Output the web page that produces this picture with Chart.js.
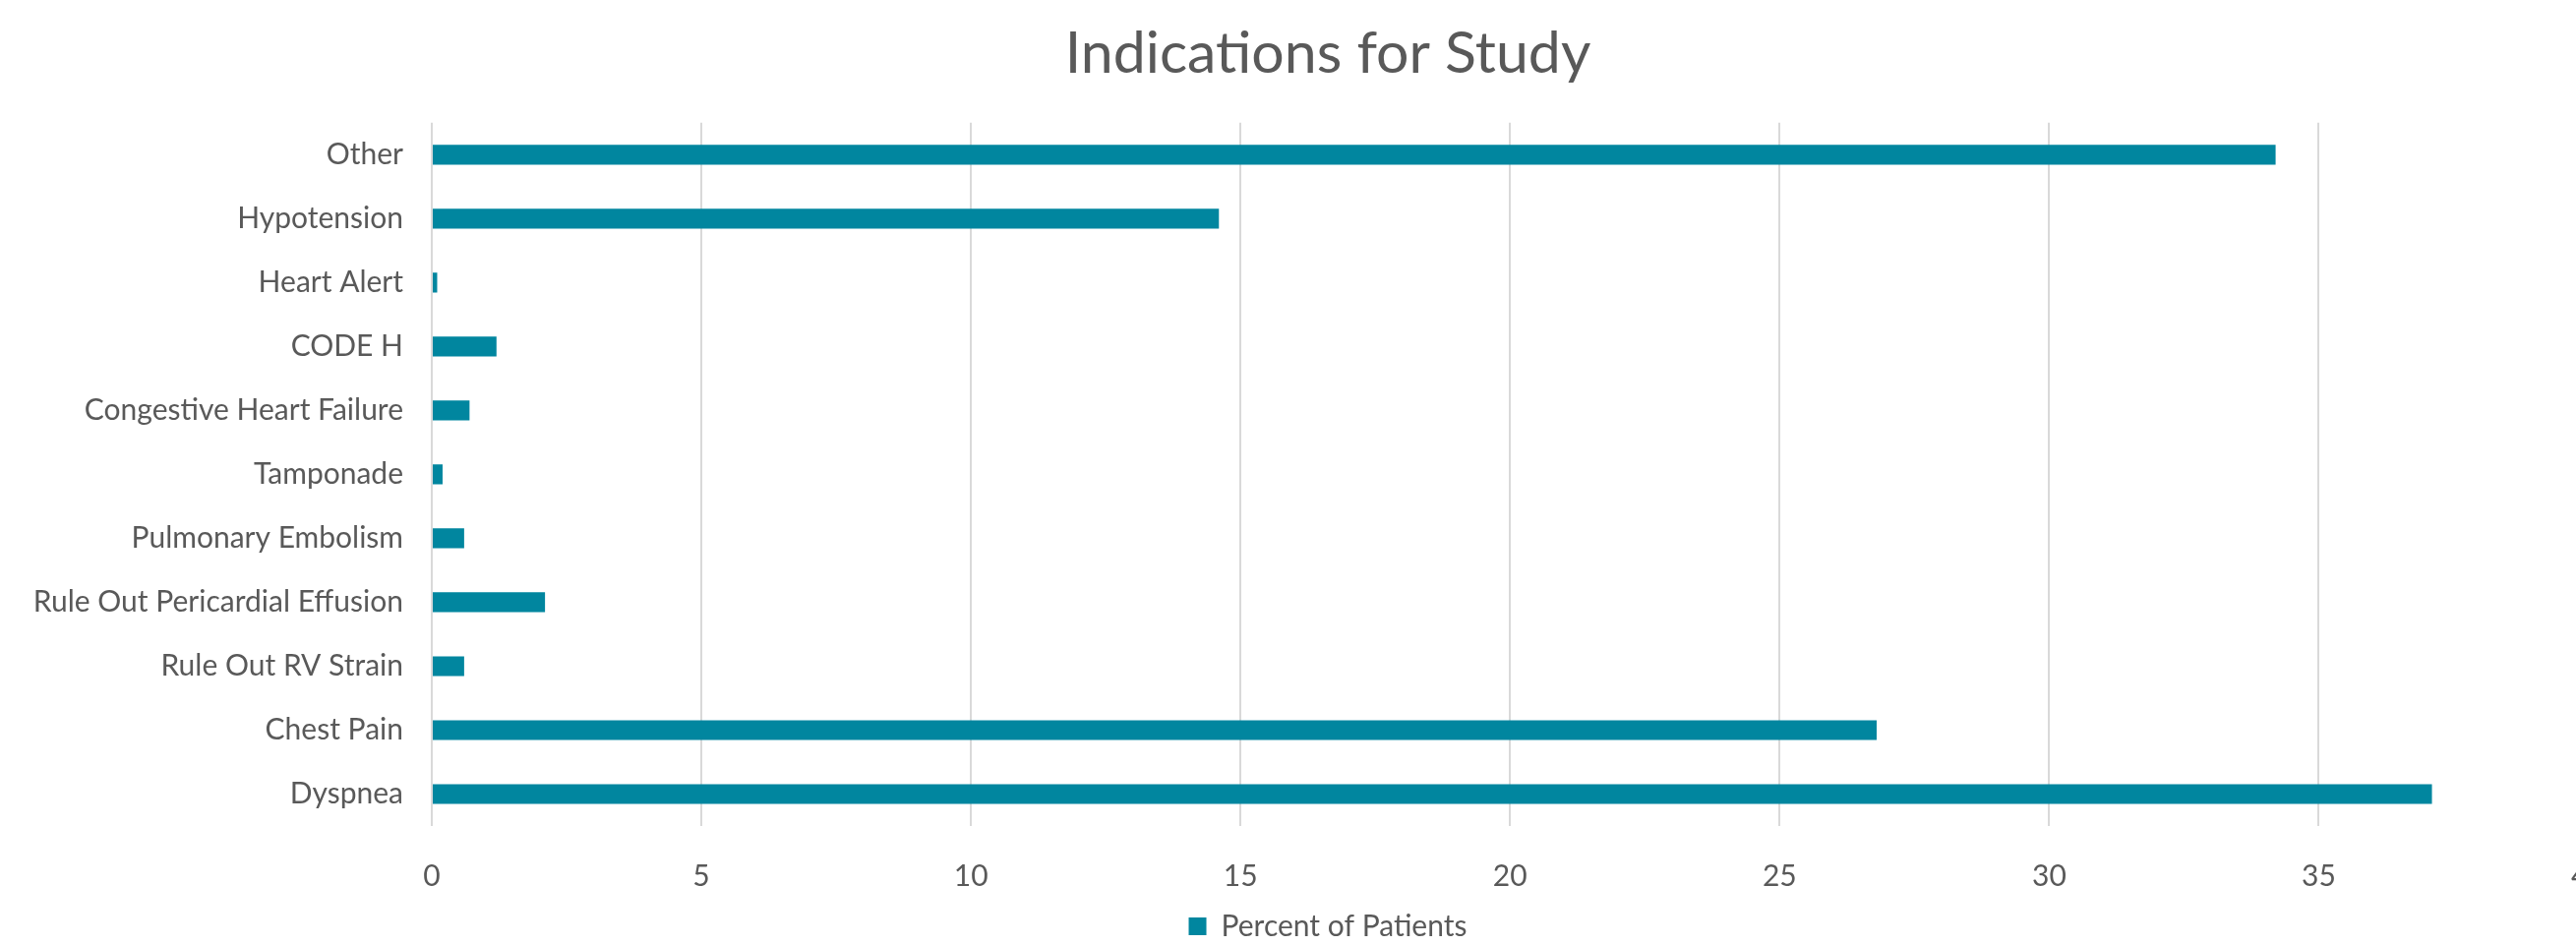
<!DOCTYPE html>
<html>
<head>
<meta charset="utf-8">
<title>Indications for Study</title>
<script src="https://cdn.jsdelivr.net/npm/chart.js@4/dist/chart.umd.min.js"></script>
<style>
  html, body { margin: 0; padding: 0; background: #ffffff; overflow: hidden; }
  #wrap { width: 2700px; height: 967px; }
</style>
</head>
<body>
<div id="wrap"><canvas id="chart" width="2700" height="967"></canvas></div>
<script>
// Indications, listed bottom-to-top as they appear on the axis
const indications = [
  'Dyspnea',
  'Chest Pain',
  'Rule Out RV Strain',
  'Rule Out Pericardial Effusion',
  'Pulmonary Embolism',
  'Tamponade',
  'Congestive Heart Failure',
  'CODE H',
  'Heart Alert',
  'Hypotension',
  'Other'
];

// Percent of patients for each indication
const percentOfPatients = [37.1, 26.8, 0.6, 2.1, 0.6, 0.2, 0.7, 1.2, 0.1, 14.6, 34.2];

// Value axis range and step
const axisMin = 0;
const axisMax = 40;
const axisStep = 5;

const seriesName = 'Percent of Patients';
const chartTitle = 'Indications for Study';

const TEXT = '#595959';
const GRID = '#d9d9d9';
const BAR = '#01869f';
const FONT = 'Lato, "Open Sans", sans-serif';

// The side padding keeps title and legend centred; let the category labels
// use the full left margin so the longest one is not clipped.
const widenCategoryAxis = {
  id: 'widenCategoryAxis',
  afterLayout(chart) {
    const y = chart.scales.y;
    y.width = y.right;
    y.left = 0;
  }
};

function draw() {
  new Chart(document.getElementById('chart'), {
    type: 'bar',
    data: {
      labels: indications,
      datasets: [{
        label: seriesName,
        data: percentOfPatients,
        backgroundColor: BAR,
        borderWidth: 0,
        categoryPercentage: 1,
        barPercentage: 0.31
      }]
    },
    plugins: [widenCategoryAxis],
    options: {
      indexAxis: 'y',
      responsive: false,
      animation: false,
      layout: { padding: { left: 68.5, right: 68.5, top: 0, bottom: 0 } },
      plugins: {
        title: {
          display: true,
          text: chartTitle,
          color: TEXT,
          font: { family: FONT, size: 59, weight: 'normal' },
          padding: { top: 20, bottom: 34 }
        },
        legend: {
          display: true,
          position: 'bottom',
          labels: {
            color: TEXT,
            font: { family: FONT, size: 30 },
            boxWidth: 18,
            boxHeight: 18,
            padding: 10
          }
        },
        tooltip: { enabled: false }
      },
      scales: {
        x: {
          type: 'linear',
          min: axisMin,
          max: axisMax,
          ticks: {
            stepSize: axisStep,
            color: TEXT,
            font: { family: FONT, size: 30 },
            padding: 33
          },
          grid: { color: GRID, lineWidth: 2, drawTicks: false },
          border: { display: false },
          afterFit: (scale) => { scale.height = 77; }
        },
        y: {
          reverse: true,
          ticks: {
            color: TEXT,
            font: { family: FONT, size: 30 },
            padding: 29
          },
          grid: { display: false, drawTicks: false },
          border: { display: false },
          afterFit: (scale) => { scale.width = 370.5; }
        }
      }
    }
  });
}

if (document.fonts && document.fonts.load) {
  Promise.all([
    document.fonts.load('30px Lato'),
    document.fonts.load('59px Lato')
  ]).then(draw, draw);
} else {
  draw();
}
</script>
</body>
</html>
